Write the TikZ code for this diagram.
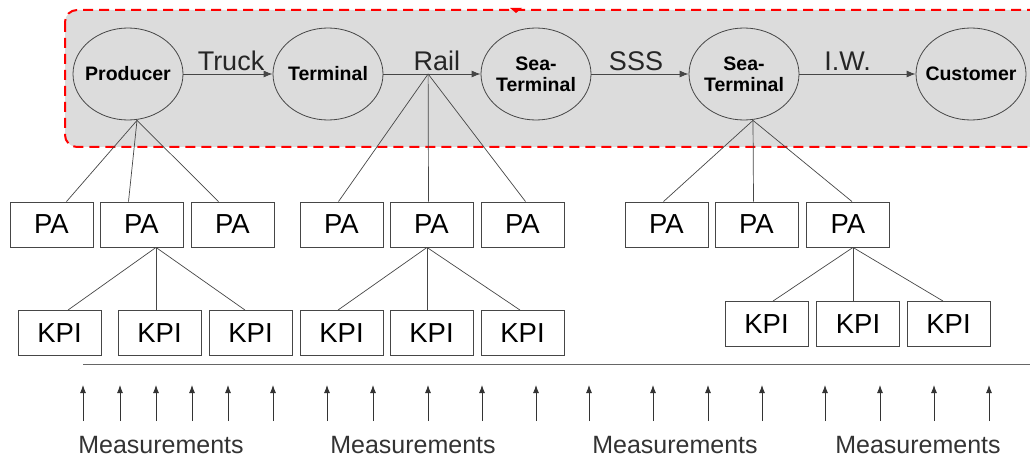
\documentclass[tikz,border=0pt]{standalone}
\usepackage{fontspec}
\setmainfont{Liberation Sans}
\usetikzlibrary{shapes.geometric,arrows.meta}
\definecolor{boxgray}{RGB}{220,220,220}
\definecolor{linegray}{RGB}{70,70,70}
\newcommand{\zw}[1]{\makebox[0pt]{#1}}
\tikzset{
  stage/.style={ellipse,draw=linegray,line width=0.8pt,minimum width=110pt,minimum height=92pt,inner sep=0pt,font=\fontsize{19.5}{21}\selectfont\bfseries,align=center},
  pabox/.style={rectangle,draw=linegray,line width=0.9pt,minimum width=83pt,minimum height=45pt,inner sep=0pt,font=\fontsize{27.5}{30}\selectfont},
  conn/.style={draw=linegray,line width=0.7pt},
  flow/.style={draw=linegray,line width=0.9pt,-{Latex[length=9pt,width=7pt]}},
  lab/.style={font=\fontsize{27}{30}\selectfont,text=black!85,inner sep=0pt},
  meas/.style={draw=black!80,line width=0.9pt,-{Latex[length=8pt,width=6pt]}},
  mlab/.style={font=\fontsize{25}{28}\selectfont,text=black!80,inner sep=0pt}
}
\begin{document}
\begin{tikzpicture}[x=1pt,y=-1pt]
\useasboundingbox (0,0) rectangle (1030,457);
\clip (0,0) rectangle (1030,457);
% background panel
\draw[red,dash pattern=on 10pt off 6pt,line width=2pt,fill=boxgray,rounded corners=12pt] (65,10) rectangle (1060,147);
\fill[red] (510,8) -- (522,8) -- (516,13) -- cycle;
% stages
\node[stage] (prod) at (128,74) {\zw{Producer}};
\node[stage] (term) at (328,74) {\zw{Terminal}};
\node[stage] (sea1) at (536,74) {\zw{Sea-}\\\zw{Terminal}};
\node[stage] (sea2) at (744,74) {\zw{Sea-}\\\zw{Terminal}};
\node[stage] (cust) at (971,74) {\zw{Customer}};
% flows
\draw[flow] (prod) -- node[lab,above=3pt,xshift=3pt] {Truck} (term);
\draw[flow] (term) -- coordinate[pos=0.46] (rail) node[lab,above=3pt,pos=0.55] {Rail} (sea1);
\draw[flow] (sea1) -- node[lab,above=3pt,xshift=-4pt] {SSS} (sea2);
\draw[flow] (sea2) -- node[lab,above=3pt,xshift=-10pt] {I.W.} (cust);
\coordinate (prodfoot) at ([xshift=9pt]prod.south);
\coordinate (seafoot) at ([xshift=9pt]sea2.south);
% PA boxes
\node[pabox] (pa1) at (51.5,224.5) {PA};
\node[pabox] (pa2) at (141.5,224.5) {PA};
\node[pabox] (pa3) at (232.5,224.5) {PA};
\node[pabox] (pa4) at (341.5,224.5) {PA};
\node[pabox] (pa5) at (431.5,224.5) {PA};
\node[pabox] (pa6) at (522.5,224.5) {PA};
\node[pabox] (pa7) at (666.5,224.5) {PA};
\node[pabox] (pa8) at (756.5,224.5) {PA};
\node[pabox] (pa9) at (848,224.5) {PA};
% KPI boxes
\node[pabox] (k1) at (59.5,333) {KPI};
\node[pabox] (k2) at (159.5,333) {KPI};
\node[pabox] (k3) at (250.5,333) {KPI};
\node[pabox] (k4) at (341.5,333) {KPI};
\node[pabox] (k5) at (431.5,333) {KPI};
\node[pabox] (k6) at (522.5,333) {KPI};
\node[pabox] (k7) at (766.5,324) {KPI};
\node[pabox] (k8) at (858,324) {KPI};
\node[pabox] (k9) at (948.5,324) {KPI};
% stage to PA
\draw[conn] (prodfoot) -- ([xshift=15pt]pa1.north);
\draw[conn] (prodfoot) -- ([xshift=-13pt]pa2.north);
\draw[conn] (prodfoot) -- ([xshift=-14pt]pa3.north);
\draw[conn] (rail) -- ([xshift=-3pt]pa4.north);
\draw[conn] (rail) -- ([xshift=-3pt]pa5.north);
\draw[conn] (rail) -- ([xshift=3pt]pa6.north);
\draw[conn] (seafoot) -- ([xshift=-3pt]pa7.north);
\draw[conn] (seafoot) -- ([xshift=-3pt]pa8.north);
\draw[conn] (seafoot) -- ([xshift=4pt]pa9.north);
% PA to KPI
\draw[conn] ([xshift=14.5pt]pa2.south) -- ([xshift=8.5pt]k1.north);
\draw[conn] ([xshift=14.5pt]pa2.south) -- ([xshift=-3.5pt]k2.north);
\draw[conn] ([xshift=14.5pt]pa2.south) -- ([xshift=-5.5pt]k3.north);
\draw[conn] ([xshift=-4.5pt]pa5.south) -- ([xshift=-3.5pt]k4.north);
\draw[conn] ([xshift=-4.5pt]pa5.south) -- ([xshift=-4.5pt]k5.north);
\draw[conn] ([xshift=-4.5pt]pa5.south) -- ([xshift=-2.5pt]k6.north);
\draw[conn] ([xshift=5pt]pa9.south) -- ([xshift=6.5pt]k7.north);
\draw[conn] ([xshift=5pt]pa9.south) -- ([xshift=-5pt]k8.north);
\draw[conn] ([xshift=5pt]pa9.south) -- ([xshift=-5.5pt]k9.north);
% baseline
\coordinate (baseL) at (83,364);
\coordinate (baseR) at (1032,364);
\draw[draw=black!60,line width=0.9pt] (baseL) -- (baseR);
% measurement arrows
\foreach \x [count=\i] in {83,120,156,192,228,273,327,373,428,482,536,589,653,708,762,825,880,934,989}{
  \coordinate (mb\i) at (\x,421);
  \coordinate (mt\i) at (\x,385);
  \draw[meas] (mb\i) -- (mt\i);
}
\node[mlab] (meas1) at (161,445) {Measurements};
\node[mlab] (meas2) at (413,445) {Measurements};
\node[mlab] (meas3) at (675,445) {Measurements};
\node[mlab] (meas4) at (918,445) {Measurements};
\end{tikzpicture}
\end{document}
